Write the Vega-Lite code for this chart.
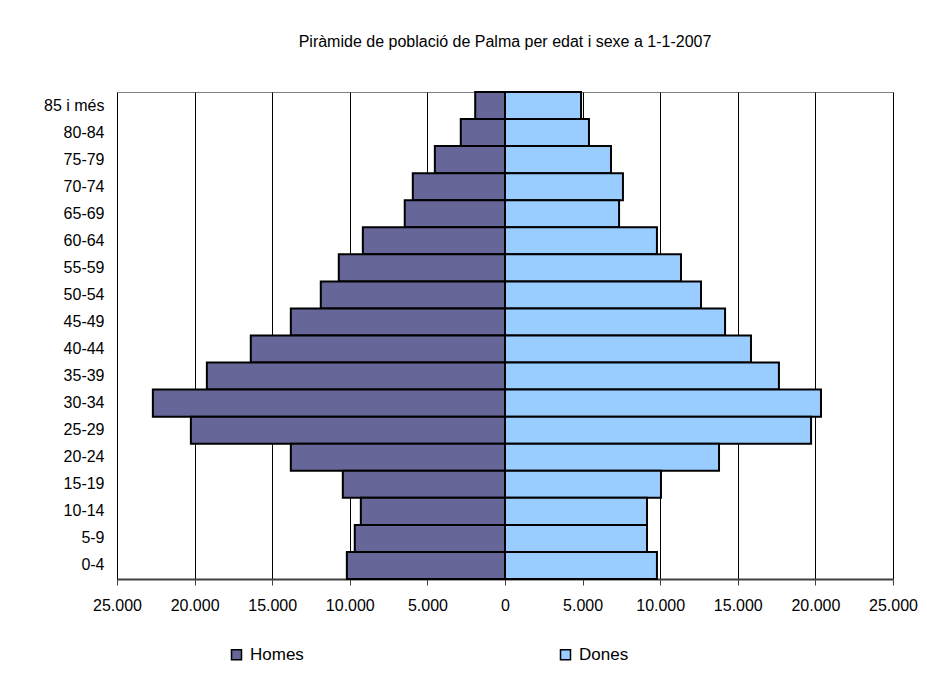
{
  "$schema": "https://vega.github.io/schema/vega-lite/v6.json",
  "width": 776,
  "height": 487,
  "autosize": "none",
  "padding": {"left": 117, "top": 92, "right": 34, "bottom": 94},
  "background": "white",
  "title": {
    "text": "Piràmide de població de Palma per edat i sexe a 1-1-2007",
    "font": "Liberation Sans",
    "fontSize": 16,
    "fontWeight": "normal",
    "color": "black",
    "anchor": "middle",
    "offset": 41
  },
  "data": {
    "values": [
      {"age": "85 i més", "sex": "Homes", "value": -1920},
      {"age": "80-84", "sex": "Homes", "value": -2850},
      {"age": "75-79", "sex": "Homes", "value": -4520},
      {"age": "70-74", "sex": "Homes", "value": -5940},
      {"age": "65-69", "sex": "Homes", "value": -6460},
      {"age": "60-64", "sex": "Homes", "value": -9160},
      {"age": "55-59", "sex": "Homes", "value": -10710},
      {"age": "50-54", "sex": "Homes", "value": -11870},
      {"age": "45-49", "sex": "Homes", "value": -13800},
      {"age": "40-44", "sex": "Homes", "value": -16380},
      {"age": "35-39", "sex": "Homes", "value": -19210},
      {"age": "30-34", "sex": "Homes", "value": -22690},
      {"age": "25-29", "sex": "Homes", "value": -20240},
      {"age": "20-24", "sex": "Homes", "value": -13800},
      {"age": "15-19", "sex": "Homes", "value": -10450},
      {"age": "10-14", "sex": "Homes", "value": -9290},
      {"age": "5-9", "sex": "Homes", "value": -9680},
      {"age": "0-4", "sex": "Homes", "value": -10190},
      {"age": "85 i més", "sex": "Dones", "value": 4900},
      {"age": "80-84", "sex": "Dones", "value": 5410},
      {"age": "75-79", "sex": "Dones", "value": 6830},
      {"age": "70-74", "sex": "Dones", "value": 7600},
      {"age": "65-69", "sex": "Dones", "value": 7350},
      {"age": "60-64", "sex": "Dones", "value": 9790},
      {"age": "55-59", "sex": "Dones", "value": 11340},
      {"age": "50-54", "sex": "Dones", "value": 12630},
      {"age": "45-49", "sex": "Dones", "value": 14180},
      {"age": "40-44", "sex": "Dones", "value": 15850},
      {"age": "35-39", "sex": "Dones", "value": 17650},
      {"age": "30-34", "sex": "Dones", "value": 20360},
      {"age": "25-29", "sex": "Dones", "value": 19720},
      {"age": "20-24", "sex": "Dones", "value": 13790},
      {"age": "15-19", "sex": "Dones", "value": 10050},
      {"age": "10-14", "sex": "Dones", "value": 9150},
      {"age": "5-9", "sex": "Dones", "value": 9150},
      {"age": "0-4", "sex": "Dones", "value": 9790}
    ]
  },
  "mark": {"type": "bar", "stroke": "black", "strokeWidth": 2, "opacity": 1},
  "encoding": {
    "y": {
      "field": "age",
      "type": "nominal",
      "sort": ["85 i més", "80-84", "75-79", "70-74", "65-69", "60-64", "55-59", "50-54", "45-49", "40-44", "35-39", "30-34", "25-29", "20-24", "15-19", "10-14", "5-9", "0-4"],
      "scale": {"paddingInner": 0, "paddingOuter": 0},
      "axis": {
        "title": null,
        "ticks": false,
        "domain": false,
        "labelFont": "Liberation Sans",
        "labelFontSize": 16,
        "labelColor": "black",
        "labelPadding": 13
      }
    },
    "x": {
      "field": "value",
      "type": "quantitative",
      "stack": null,
      "scale": {"domain": [-25000, 25000], "nice": false, "zero": false},
      "axis": {
        "title": null,
        "values": [-25000, -20000, -15000, -10000, -5000, 0, 5000, 10000, 15000, 20000, 25000],
        "labelExpr": "replace(format(abs(datum.value), ','), ',', '.')",
        "grid": true,
        "gridColor": "black",
        "gridWidth": 1,
        "gridOpacity": 1,
        "domainColor": "#404040",
        "domainWidth": 2,
        "tickColor": "#404040",
        "tickWidth": 1,
        "tickSize": 6,
        "labelPadding": 12,
        "labelFont": "Liberation Sans",
        "labelFontSize": 16,
        "labelColor": "black",
        "labelFlush": false,
        "labelOverlap": false
      }
    },
    "color": {
      "field": "sex",
      "type": "nominal",
      "scale": {"domain": ["Homes", "Dones"], "range": ["#666699", "#99CCFF"]},
      "legend": {
        "title": null,
        "orient": "none",
        "direction": "horizontal",
        "legendX": 111,
        "legendY": 554,
        "padding": 0,
        "columnPadding": 253,
        "symbolType": "square",
        "symbolSize": 100,
        "symbolStrokeColor": "black",
        "symbolStrokeWidth": 1.5,
        "symbolOpacity": 1,
        "labelFont": "Liberation Sans",
        "labelFontSize": 17,
        "labelColor": "black",
        "labelOffset": 5
      }
    }
  },
  "config": {
    "view": {"stroke": "#808080", "strokeWidth": 1}
  }
}
